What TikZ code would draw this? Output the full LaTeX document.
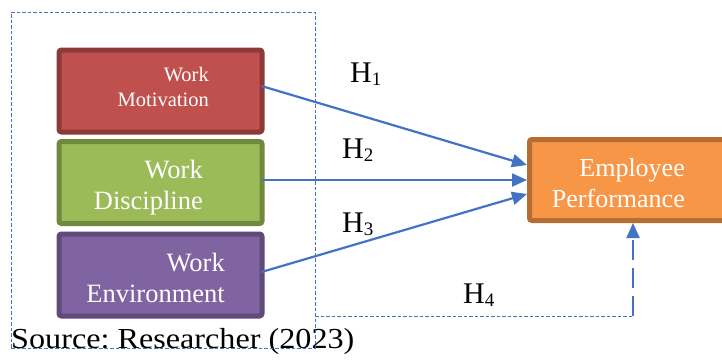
\documentclass[tikz,border=0pt]{standalone}
\usepackage{fontspec}
\setmainfont{Liberation Serif}
\usetikzlibrary{arrows.meta}

\definecolor{linkblue}{HTML}{4472C4}
\definecolor{motfill}{HTML}{C0504D}
\definecolor{motedge}{HTML}{8C3A38}
\definecolor{disfill}{HTML}{9BBB59}
\definecolor{disedge}{HTML}{71893F}
\definecolor{envfill}{HTML}{8064A2}
\definecolor{envedge}{HTML}{5F4A7A}
\definecolor{perffill}{HTML}{F79646}
\definecolor{perfedge}{HTML}{B66D31}

\newcommand\hyplabel[1]{H\raisebox{-3pt}{\fontsize{19}{19}\selectfont #1}}
\newcommand\twolines[2]{\begin{tabular}[t]{@{}r@{}}#1\\#2\end{tabular}}

\tikzset{
  varbox/.style={draw, line width=5pt, rounded corners=2.5pt, inner sep=0pt,
    minimum width=203pt, minimum height=82pt},
  boxtext/.style={text=white, inner sep=0pt, anchor=base east},
  hyp/.style={inner sep=0pt, anchor=base west, font=\fontsize{30}{30}\selectfont},
  link/.style={draw=linkblue, line width=2.2pt,
    -{Triangle[length=15pt, width=13pt]}},
  framedash/.style={draw=linkblue, line width=1pt, dash pattern=on 3.5pt off 2pt},
  longdash/.style={draw=linkblue, line width=2.2pt, dash pattern=on 20pt off 8pt,
    -{Triangle[length=15pt, width=13pt]}}
}

\begin{document}
\frenchspacing
\begin{tikzpicture}[x=1pt, y=-1pt]
  \clip (0,0) rectangle (722,360);

  % independent variables
  \node[varbox, fill=motfill, draw=motedge] (mot) at (160.5,91) {};
  \node[varbox, fill=disfill, draw=disedge] (dis) at (160.5,182.5) {};
  \node[varbox, fill=envfill, draw=envedge] (env) at (160.5,275) {};

  \node[boxtext, font=\fontsize{20.5}{25}\selectfont] (mot-t) at (209,81)
    {\twolines{Work}{Motivation}};
  \node[boxtext, font=\fontsize{26.5}{31}\selectfont] (dis-t) at (203,178)
    {\twolines{Work}{Discipline}};
  \node[boxtext, font=\fontsize{26.5}{31}\selectfont] (env-t) at (225,271)
    {\twolines{Work}{Environment}};

  % dependent variable
  \node[varbox, fill=perffill, draw=perfedge, minimum width=210pt,
    minimum height=81pt, anchor=west] (perf) at (527,180) {};
  \node[boxtext, font=\fontsize{26}{31}\selectfont] (perf-t) at (685,176)
    {\twolines{Employee}{Performance}};

  % source line and grouping frame
  \node[inner sep=0pt, anchor=base west, font=\fontsize{29}{29}\selectfont]
    (src) at (11,348) {\scalebox{1.11}[1]{Source: Researcher (2023)}};
  \node[framedash, inner sep=0pt, outer sep=0pt, minimum width=304pt,
    minimum height=336pt] (frame) at (163,180) {};

  % hypotheses
  \draw[link] ([xshift=-3pt, yshift=5pt]mot.east) -- ([yshift=15pt]perf.west);
  \draw[link] ([xshift=-3pt, yshift=2.5pt]dis.east) -- ([yshift=0pt]perf.west);
  \draw[link] ([xshift=-3pt, yshift=3pt]env.east) -- ([yshift=-14pt]perf.west);

  \coordinate (h4corner) at (633,316);
  \draw[framedash] (frame.east |- h4corner) -- (h4corner);
  \draw[longdash] (h4corner) -- (perf.south -| h4corner);

  \node[hyp] (h1) at (350,82) {\hyplabel{1}};
  \node[hyp] (h2) at (342,158) {\hyplabel{2}};
  \node[hyp] (h3) at (342,232) {\hyplabel{3}};
  \node[hyp] (h4) at (463,303) {\hyplabel{4}};
\end{tikzpicture}
\end{document}
